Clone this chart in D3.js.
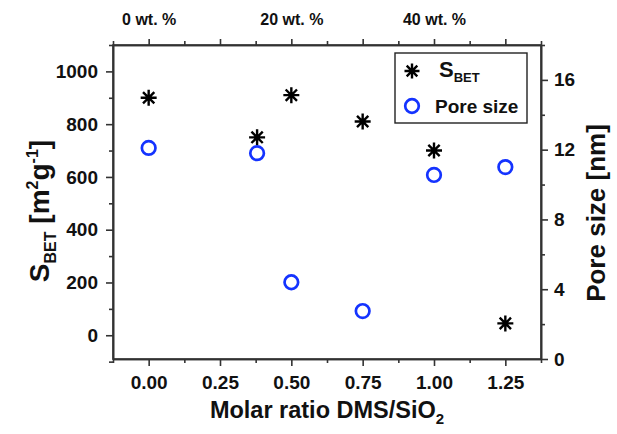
<!DOCTYPE html>
<html>
<head>
<meta charset="utf-8">
<script src="https://cdn.jsdelivr.net/npm/d3@7"></script>
<style>
  body { margin: 0; background: #fff; }
  text { font-family: "Liberation Sans", Arial, sans-serif; font-weight: bold; fill: #111; }
  .axis path, .axis line { stroke: #333; stroke-width: 1.6; }
</style>
</head>
<body>
<div id="container"></div>
<script>
// data
var ratio = [0, 0.38, 0.5, 0.75, 1.0, 1.25];
var sbet = [900, 750, 910, 810, 700, 45];
var pore = [12.1, 11.8, 4.4, 2.75, 10.55, 11.0];

var xTicks = [0, 0.25, 0.5, 0.75, 1.0, 1.25];
var xMinor = [-0.125, 0.125, 0.375, 0.625, 0.875, 1.125, 1.375];
var topLabels = ["0 wt. %", "", "20 wt. %", "", "40 wt. %", ""];
var leftTicks = [0, 200, 400, 600, 800, 1000];
var leftMinor = [-100, 100, 300, 500, 700, 900, 1100];
var rightTicks = [0, 4, 8, 12, 16];
var rightMinor = [2, 6, 10, 14, 18];

var width = 617;
var height = 434;
var margin = {left: 113, top: 45, right: 76, bottom: 75};
var blue = "#1433ff";

var svg = d3.select("#container")
            .append("svg")
            .attr("width", width)
            .attr("height", height);

var xScale = d3.scaleLinear()
               .domain([-0.125, 1.375])
               .range([margin.left, width - margin.right]);

var yLeft = d3.scaleLinear()
              .domain([-90, 1100])
              .range([height - margin.bottom, margin.top]);

var yRight = d3.scaleLinear()
               .domain([0, 18])
               .range([height - margin.bottom, margin.top]);

// axes: major ticks with labels, minor ticks without
function addAxis(axis, transform, cls) {
    var g = svg.append("g")
               .attr("class", "axis " + cls)
               .attr("transform", transform)
               .call(axis);
    return g;
}

addAxis(d3.axisBottom(xScale).tickValues(xTicks).tickFormat(d3.format(".2f")).tickSize(7).tickSizeOuter(0).tickPadding(10),
        "translate(0," + (height - margin.bottom) + ")", "bottom");
addAxis(d3.axisBottom(xScale).tickValues(xMinor).tickFormat("").tickSize(4).tickSizeOuter(0),
        "translate(0," + (height - margin.bottom) + ")", "bottom-minor");

addAxis(d3.axisTop(xScale).tickValues(xTicks).tickFormat((d, i) => topLabels[i]).tickSize(6).tickSizeOuter(0).tickPadding(14),
        "translate(0," + margin.top + ")", "top");
addAxis(d3.axisTop(xScale).tickValues(xMinor).tickFormat("").tickSize(4).tickSizeOuter(0),
        "translate(0," + margin.top + ")", "top-minor");

addAxis(d3.axisLeft(yLeft).tickValues(leftTicks).tickFormat(d3.format("d")).tickSize(7).tickSizeOuter(0).tickPadding(8),
        "translate(" + margin.left + ",0)", "left");
addAxis(d3.axisLeft(yLeft).tickValues(leftMinor).tickFormat("").tickSize(4).tickSizeOuter(0),
        "translate(" + margin.left + ",0)", "left-minor");

addAxis(d3.axisRight(yRight).tickValues(rightTicks).tickSize(7).tickSizeOuter(0).tickPadding(6),
        "translate(" + (width - margin.right) + ",0)", "right");
addAxis(d3.axisRight(yRight).tickValues(rightMinor).tickFormat("").tickSize(4).tickSizeOuter(0),
        "translate(" + (width - margin.right) + ",0)", "right-minor");

svg.selectAll(".bottom text, .left text, .right text")
   .style("font-size", "19px").style("font-family", "Liberation Sans, Arial, sans-serif");
svg.selectAll(".top text")
   .style("font-size", "16px").style("font-family", "Liberation Sans, Arial, sans-serif");

// frame
svg.append("rect")
   .attr("x", margin.left)
   .attr("y", margin.top)
   .attr("width", width - margin.left - margin.right)
   .attr("height", height - margin.top - margin.bottom)
   .attr("fill", "none")
   .attr("stroke", "#333")
   .attr("stroke-width", 1.6);

// 8-armed asterisk
function asterisk(cx, cy, r) {
    var p = d3.path();
    var d = r * Math.SQRT1_2;
    p.moveTo(cx - r, cy); p.lineTo(cx + r, cy);
    p.moveTo(cx, cy - r); p.lineTo(cx, cy + r);
    p.moveTo(cx - d, cy - d); p.lineTo(cx + d, cy + d);
    p.moveTo(cx - d, cy + d); p.lineTo(cx + d, cy - d);
    return p.toString();
}

svg.selectAll(".sbet")
   .data(ratio)
   .enter()
   .append("path")
   .attr("class", "sbet")
   .attr("d", (d, i) => asterisk(xScale(d), yLeft(sbet[i]), 8))
   .attr("stroke", "#000")
   .attr("stroke-width", 2.4)
   .attr("fill", "none");

svg.selectAll(".pore")
   .data(ratio)
   .enter()
   .append("circle")
   .attr("class", "pore")
   .attr("cx", (d) => xScale(d))
   .attr("cy", (d, i) => yRight(pore[i]))
   .attr("r", 6.8)
   .attr("fill", "none")
   .attr("stroke", blue)
   .attr("stroke-width", 2.7);

// axis titles
svg.append("text")
   .attr("x", (margin.left + width - margin.right) / 2)
   .attr("y", 418)
   .attr("text-anchor", "middle")
   .style("font-size", "23.5px")
   .html('Molar ratio DMS/SiO<tspan dy="6" font-size="15px">2</tspan>');

svg.append("text")
   .attr("transform", "translate(49," + 211 + ") rotate(-90)")
   .attr("text-anchor", "middle")
   .style("font-size", "28px")
   .html('S<tspan dy="7" font-size="16px">BET</tspan><tspan dy="-7"> [m</tspan><tspan dy="-11" font-size="16px">2</tspan><tspan dy="11">g</tspan><tspan dy="-11" font-size="16px">-1</tspan><tspan dy="11">]</tspan>');

svg.append("text")
   .attr("transform", "translate(605," + 213 + ") rotate(-90)")
   .attr("text-anchor", "middle")
   .style("font-size", "26px")
   .text("Pore size [nm]");

// legend
var legend = svg.append("g");
legend.append("rect")
      .attr("x", 395).attr("y", 53)
      .attr("width", 132).attr("height", 70)
      .attr("fill", "#fff")
      .attr("stroke", "#222")
      .attr("stroke-width", 1.4);
legend.append("path")
      .attr("d", asterisk(412, 71, 7.5))
      .attr("stroke", "#000")
      .attr("stroke-width", 2.4);
legend.append("circle")
      .attr("cx", 412).attr("cy", 106).attr("r", 6.8)
      .attr("fill", "none").attr("stroke", blue).attr("stroke-width", 2.7);
legend.append("text")
      .attr("x", 439).attr("y", 77)
      .style("font-size", "22px")
      .html('S<tspan dy="5" font-size="13px">BET</tspan>');
legend.append("text")
      .attr("x", 435).attr("y", 113)
      .style("font-size", "19px")
      .text("Pore size");
</script>
</body>
</html>
